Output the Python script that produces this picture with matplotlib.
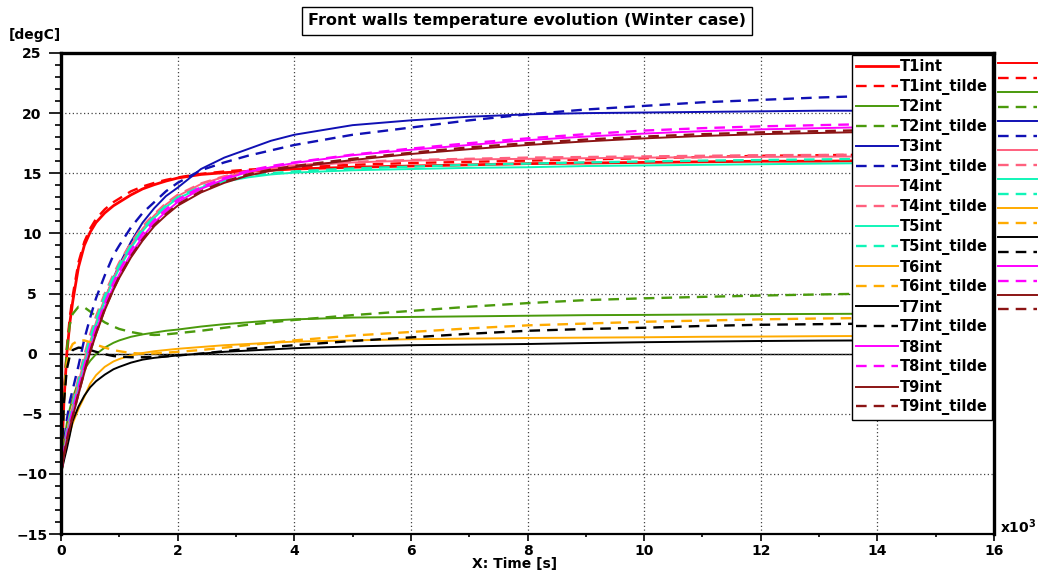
import matplotlib
matplotlib.use("Agg")
import matplotlib.pyplot as plt
from matplotlib.lines import Line2D
import numpy as np

# time in thousands of seconds
t_k = [0, 0.05, 0.1, 0.15, 0.2, 0.3, 0.4, 0.5, 0.6, 0.75, 0.9, 1.0, 1.2, 1.4, 1.6, 1.8,
       2.0, 2.4, 2.8, 3.2, 3.6, 4.0, 5, 6, 7, 8, 9, 10, 11, 12, 13, 14]

T1int = [-10, -4, 0, 2.5, 4.3, 7.2, 9.0, 10.1, 10.9, 11.7, 12.3, 12.6, 13.2, 13.7, 14.05, 14.35,
         14.6, 14.9, 15.05, 15.15, 15.25, 15.35, 15.5, 15.6, 15.7, 15.8, 15.85, 15.9, 15.95, 16.0, 16.0, 16.05]
T1int_tilde = [-10, -3.5, 0.5, 3.0, 4.8, 7.6, 9.3, 10.4, 11.2, 12.0, 12.6, 12.9, 13.5, 13.9, 14.2, 14.45,
               14.65, 14.95, 15.15, 15.3, 15.4, 15.5, 15.7, 15.85, 15.95, 16.05, 16.15, 16.25, 16.35, 16.45, 16.5, 16.55]
T2int = [-10, -7.5, -5.8, -4.6, -3.7, -2.3, -1.3, -0.6, -0.05, 0.5, 0.9, 1.1, 1.4, 1.6, 1.75, 1.9,
         2.0, 2.25, 2.45, 2.6, 2.75, 2.85, 3.0, 3.05, 3.1, 3.15, 3.2, 3.22, 3.25, 3.28, 3.3, 3.32]
T2int_tilde = [-10, -4, 0.3, 2.4, 3.3, 3.9, 3.85, 3.5, 3.1, 2.6, 2.25, 2.05, 1.8, 1.62, 1.55, 1.6,
               1.7, 1.9, 2.15, 2.4, 2.6, 2.8, 3.2, 3.55, 3.9, 4.2, 4.45, 4.6, 4.72, 4.83, 4.92, 5.0]
T3int = [-10, -8.5, -7.2, -6.0, -5.0, -3.0, -1.0, 0.8, 2.4, 4.5, 6.3, 7.4, 9.3, 10.9, 12.1, 13.1,
         13.8, 15.35, 16.3, 17.0, 17.7, 18.2, 19.0, 19.4, 19.7, 19.9, 20.0, 20.05, 20.1, 20.15, 20.2, 20.2]
T3int_tilde = [-10, -7.5, -5.5, -4.0, -3.0, -1.0, 1.2, 3.0, 4.6, 6.5, 8.2, 9.0, 10.5, 11.7, 12.6, 13.5,
               14.2, 15.25, 15.9, 16.45, 16.9, 17.35, 18.2, 18.8, 19.4, 19.9, 20.3, 20.6, 20.9, 21.1, 21.3, 21.45]
T4int = [-10, -8.1, -6.6, -5.4, -4.4, -2.4, -0.5, 1.0, 2.6, 4.6, 6.3, 7.3, 9.0, 10.4, 11.5, 12.4,
         13.1, 14.1, 14.7, 15.1, 15.4, 15.6, 15.9, 16.05, 16.15, 16.2, 16.25, 16.3, 16.33, 16.36, 16.38, 16.4]
T4int_tilde = [-10, -7.8, -6.3, -5.1, -4.1, -2.0, -0.1, 1.6, 3.1, 5.0, 6.6, 7.6, 9.2, 10.6, 11.6, 12.5,
               13.2, 14.15, 14.75, 15.15, 15.45, 15.65, 15.95, 16.1, 16.2, 16.3, 16.35, 16.4, 16.45, 16.5, 16.52, 16.55]
T5int = [-10, -8.3, -6.9, -5.8, -4.8, -2.8, -0.9, 0.8, 2.4, 4.4, 6.1, 7.1, 8.8, 10.2, 11.3, 12.2,
         12.9, 13.8, 14.3, 14.65, 14.9, 15.05, 15.25, 15.35, 15.45, 15.5, 15.6, 15.65, 15.7, 15.75, 15.8, 15.85]
T5int_tilde = [-10, -8.0, -6.5, -5.3, -4.3, -2.3, -0.4, 1.3, 2.8, 4.8, 6.4, 7.4, 9.0, 10.4, 11.4, 12.3,
               13.0, 13.9, 14.4, 14.75, 15.0, 15.15, 15.4, 15.55, 15.7, 15.8, 15.9, 15.98, 16.05, 16.1, 16.15, 16.2]
T6int = [-10, -8.7, -7.6, -6.6, -5.8, -4.6, -3.6, -2.5, -1.8, -1.1, -0.65, -0.45, -0.15, 0.05, 0.2, 0.3,
         0.4, 0.55, 0.7, 0.8, 0.9, 1.0, 1.1, 1.2, 1.25, 1.3, 1.33, 1.36, 1.4, 1.42, 1.45, 1.47]
T6int_tilde = [-10, -3.5, -0.8, 0.3, 0.8, 1.1, 1.1, 0.95, 0.75, 0.5, 0.3, 0.2, 0.05, 0.0, 0.02, 0.08,
               0.15, 0.3, 0.5, 0.7, 0.9, 1.1, 1.5, 1.8, 2.1, 2.35, 2.5, 2.65, 2.75, 2.85, 2.92, 2.97]
T7int = [-10, -8.9, -7.9, -6.8, -5.6, -4.4, -3.5, -2.8, -2.3, -1.75, -1.3, -1.1, -0.75, -0.5, -0.35, -0.25,
         -0.15, 0.0, 0.15, 0.25, 0.35, 0.45, 0.6, 0.7, 0.75, 0.8, 0.88, 0.95, 1.0, 1.05, 1.08, 1.1]
T7int_tilde = [-10, -4.0, -1.3, -0.2, 0.3, 0.5, 0.45, 0.3, 0.15, -0.05, -0.2, -0.25, -0.3, -0.3, -0.28, -0.22,
               -0.15, 0.0, 0.2, 0.4, 0.55, 0.7, 1.05, 1.35, 1.65, 1.9, 2.05, 2.15, 2.3, 2.4, 2.45, 2.5]
T8int = [-10, -8.4, -7.1, -6.0, -5.0, -3.1, -1.3, 0.4, 1.9, 3.9, 5.6, 6.6, 8.3, 9.7, 10.9, 11.8,
         12.6, 13.7, 14.5, 15.1, 15.5, 15.85, 16.5, 16.95, 17.35, 17.75, 18.05, 18.3, 18.5, 18.65, 18.75, 18.85]
T8int_tilde = [-10, -8.1, -6.8, -5.7, -4.7, -2.8, -1.0, 0.7, 2.2, 4.2, 5.9, 6.9, 8.6, 10.0, 11.1, 12.0,
               12.8, 13.85, 14.6, 15.2, 15.6, 15.9, 16.55, 17.05, 17.5, 17.9, 18.25, 18.55, 18.75, 18.9, 19.0, 19.1]
T9int = [-10, -8.5, -7.3, -6.2, -5.3, -3.4, -1.6, 0.1, 1.6, 3.6, 5.3, 6.3, 8.0, 9.4, 10.6, 11.5,
         12.3, 13.4, 14.2, 14.8, 15.2, 15.5, 16.1, 16.6, 17.0, 17.35, 17.65, 17.9, 18.1, 18.25, 18.35, 18.45]
T9int_tilde = [-10, -8.4, -7.2, -6.1, -5.2, -3.3, -1.5, 0.2, 1.7, 3.7, 5.4, 6.4, 8.1, 9.5, 10.7, 11.6,
               12.4, 13.5, 14.3, 14.9, 15.3, 15.6, 16.2, 16.7, 17.15, 17.5, 17.8, 18.05, 18.25, 18.4, 18.5, 18.6]

series_names = ["T1int", "T1int_tilde", "T2int", "T2int_tilde", "T3int", "T3int_tilde",
                "T4int", "T4int_tilde", "T5int", "T5int_tilde", "T6int", "T6int_tilde",
                "T7int", "T7int_tilde", "T8int", "T8int_tilde", "T9int", "T9int_tilde"]
series_values = [T1int, T1int_tilde, T2int, T2int_tilde, T3int, T3int_tilde,
                 T4int, T4int_tilde, T5int, T5int_tilde, T6int, T6int_tilde,
                 T7int, T7int_tilde, T8int, T8int_tilde, T9int, T9int_tilde]
base_colors = ["#ff0000", "#4a9a0c", "#1010b4", "#ff607e", "#10f5b8",
               "#ffab00", "#000000", "#ff00ff", "#8b1414"]

x_ticks = [0, 2, 4, 6, 8, 10, 12, 14, 16]
y_ticks = [-15, -10, -5, 0, 5, 10, 15, 20, 25]

W, H = 1040, 571
fig = plt.figure(figsize=(W / 100, H / 100), dpi=100)
ax = fig.add_axes([61 / W, 1 - 534 / H, (994 - 61) / W, (534 - 53) / H])

ax.set_xlim(0, 16)
ax.set_ylim(-15, 25)

ax.grid(True, which="major", linestyle=(0, (1, 2)), color="#444444", linewidth=0.9)
ax.axhline(0, color="black", linewidth=1.0, zorder=1.5)

handles = []
for i, (name, vals) in enumerate(zip(series_names, series_values)):
    col = base_colors[i // 2]
    dashed = (i % 2 == 1)
    lw = 1.7 if dashed else 1.4
    if name == "T1int":
        lw = 2.0
    ls = (0, (4.5, 3)) if dashed else "-"
    ln, = ax.plot(t_k, vals, color=col, linewidth=lw, linestyle=ls, label=name, zorder=2)
    handles.append(ln)

for s in ["left", "top", "right"]:
    ax.spines[s].set_linewidth(2.4)
ax.spines["bottom"].set_linewidth(1.6)

ax.set_xticks(x_ticks)
ax.set_yticks(y_ticks)
ax.set_xticks(np.arange(1, 16, 2), minor=True)
ax.set_yticks(np.arange(-15, 26, 1), minor=True)
ax.tick_params(axis="y", which="major", length=9, width=1.2, direction="out", labelsize=10, pad=12)
ax.tick_params(axis="y", which="minor", length=4.5, width=1.2, direction="out")
ax.tick_params(axis="x", which="major", length=5, width=1.2, direction="out", labelsize=10, pad=2)
ax.tick_params(axis="x", which="minor", length=2.5, width=1.2, direction="out")
for lab in ax.get_xticklabels() + ax.get_yticklabels():
    lab.set_fontweight("bold")
for lab in ax.get_yticklabels():
    lab.set_horizontalalignment("center")

leg = ax.legend(handles=handles, loc="upper right", bbox_to_anchor=(0.998, 0.996),
                borderaxespad=0, fancybox=False, framealpha=1, edgecolor="black",
                prop={"weight": "bold", "size": 10.5}, handlelength=2.9, handletextpad=0.1,
                labelspacing=0.31, borderpad=0.3)
leg.get_frame().set_linewidth(1.0)

# extra key column to the right of the axes
for i in range(len(series_names)):
    col = base_colors[i // 2]
    dashed = (i % 2 == 1)
    y = 1 - (63 + i * 14.5) / H
    lw = 1.7 if dashed else 1.4
    ls = (0, (4.5, 3)) if dashed else "-"
    fig.add_artist(Line2D([998 / W, 1037 / W], [y, y], color=col, linewidth=lw,
                          linestyle=ls, transform=fig.transFigure))

fig.text(527 / W, 1 - 21 / H, "Front walls temperature evolution (Winter case)",
         ha="center", va="center", fontsize=11.5, fontweight="bold",
         bbox=dict(boxstyle="square,pad=0.4", facecolor="white", edgecolor="black", linewidth=1))
fig.text(35 / W, 1 - 35 / H, "[degC]", ha="center", va="center", fontsize=10, fontweight="bold")
fig.text(515 / W, 1 - 564 / H, "X: Time [s]", ha="center", va="center", fontsize=10, fontweight="bold")
fig.text(1000 / W, 1 - 527 / H, r"x10$^{\mathbf{3}}$", ha="left", va="center", fontsize=10, fontweight="bold")

fig.savefig("out.png", dpi=100)
